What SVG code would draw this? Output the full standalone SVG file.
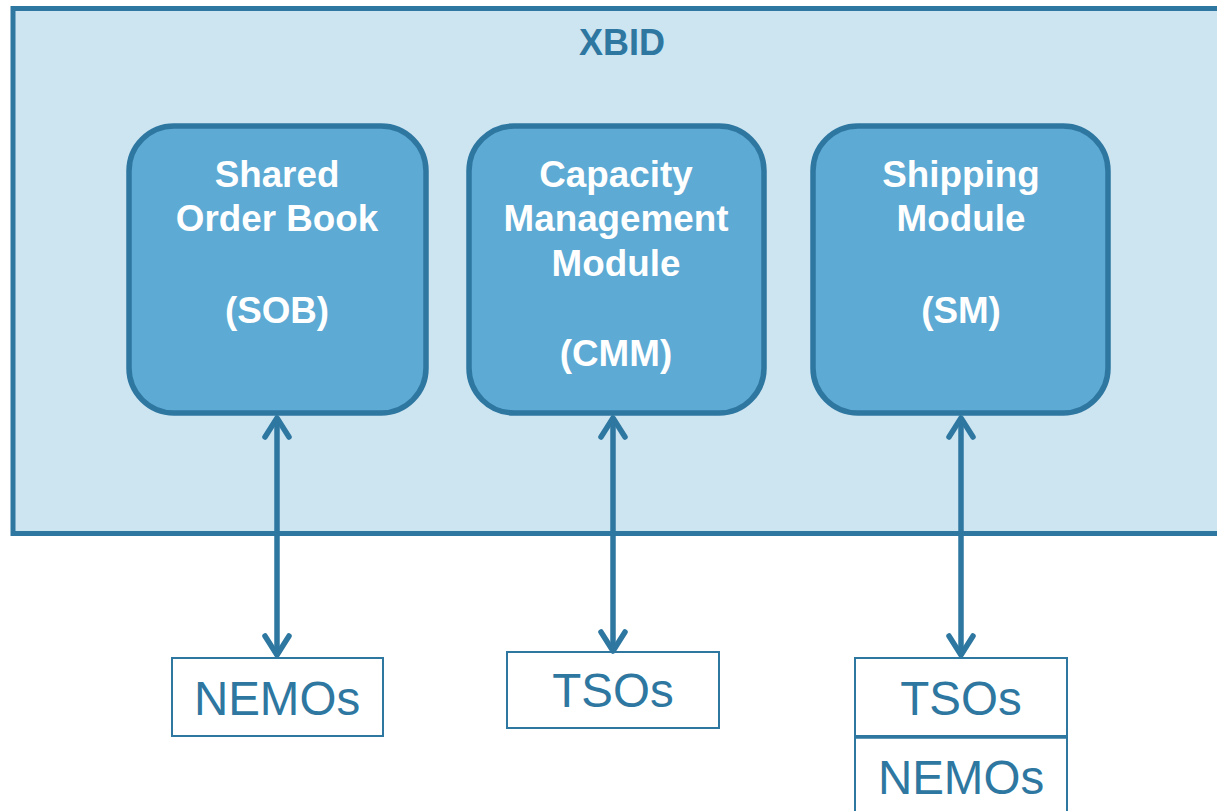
<svg xmlns="http://www.w3.org/2000/svg" width="1217" height="811" viewBox="0 0 1217 811">
<style>
.title{font-family:"Liberation Sans",Arial,sans-serif;font-weight:bold;font-size:36px;fill:#2e77a1;text-anchor:middle}
.mod{fill:#5daad4;stroke:#2e77a1;stroke-width:5.5}
.mt{font-family:"Liberation Sans",Arial,sans-serif;font-weight:bold;font-size:36.8px;fill:#ffffff;text-anchor:middle}
.ext{fill:#ffffff;stroke:#2e77a1;stroke-width:2}
.et{font-family:"Liberation Sans",Arial,sans-serif;font-size:47.5px;fill:#2e77a1;text-anchor:middle}
.conn{stroke:#2e77a1;stroke-width:5.5;fill:none;stroke-linecap:round;stroke-linejoin:round}
</style>
<rect width="1217" height="811" fill="#ffffff"/>
<g id="xbid">
<rect x="13" y="8.5" width="1220" height="525" fill="#cde4f1" stroke="#2e77a1" stroke-width="5"/>
<text class="title" x="622" y="55">XBID</text>
</g>
<g id="sob">
<rect class="mod" x="129" y="126" width="297" height="287" rx="45"/>
<text class="mt" x="277" y="187">Shared</text>
<text class="mt" x="277" y="231">Order Book</text>
<text class="mt" x="277" y="323">(SOB)</text>
</g>
<g id="cmm">
<rect class="mod" x="469" y="126" width="295" height="287" rx="45"/>
<text class="mt" x="616" y="187">Capacity</text>
<text class="mt" x="616" y="231">Management</text>
<text class="mt" x="616" y="276">Module</text>
<text class="mt" x="616" y="366">(CMM)</text>
</g>
<g id="sm">
<rect class="mod" x="813" y="126" width="295" height="287" rx="45"/>
<text class="mt" x="961" y="187">Shipping</text>
<text class="mt" x="961" y="231">Module</text>
<text class="mt" x="961" y="323">(SM)</text>
</g>
<g id="nemos1">
<rect class="ext" x="172" y="658" width="211" height="78"/>
<text class="et" x="277" y="715">NEMOs</text>
</g>
<g id="tsos1">
<rect class="ext" x="507" y="652" width="212" height="76"/>
<text class="et" x="613" y="707">TSOs</text>
</g>
<g id="tsos2">
<rect class="ext" x="855" y="658" width="212" height="78"/>
<text class="et" x="961" y="715">TSOs</text>
</g>
<g id="nemos2">
<rect class="ext" x="855" y="737" width="212" height="90"/>
<line x1="855" y1="737" x2="1067" y2="737" stroke="#2e77a1" stroke-width="3.5"/>
<text class="et" x="961" y="794">NEMOs</text>
</g>
<g id="connectors">
<line class="conn" x1="277" y1="420" x2="277" y2="654"/>
<polyline class="conn" points="265,437 277,418 289,437"/>
<polyline class="conn" points="265,636 277,655 289,636"/>
<line class="conn" x1="613" y1="420" x2="613" y2="650"/>
<polyline class="conn" points="601,437 613,418 625,437"/>
<polyline class="conn" points="601,632 613,651 625,632"/>
<line class="conn" x1="961" y1="420" x2="961" y2="654"/>
<polyline class="conn" points="949,437 961,418 973,437"/>
<polyline class="conn" points="949,636 961,655 973,636"/>
</g>
</svg>
